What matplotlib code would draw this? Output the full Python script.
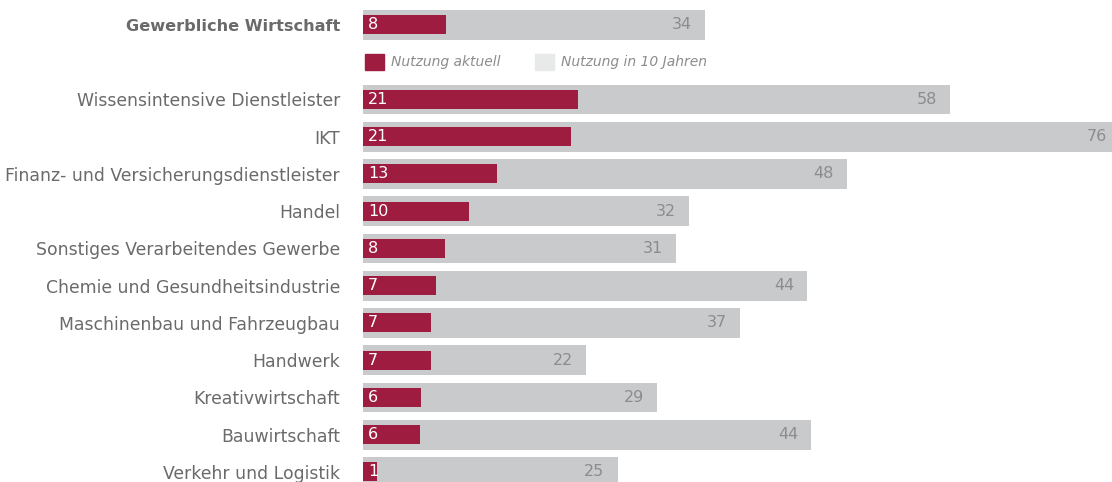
import matplotlib.pyplot as plt
from matplotlib.patches import Rectangle

categories = ['Gewerbliche Wirtschaft', 'Wissensintensive Dienstleister', 'IKT',
              'Finanz- und Versicherungsdienstleister', 'Handel',
              'Sonstiges Verarbeitendes Gewerbe', 'Chemie und Gesundheitsindustrie',
              'Maschinenbau und Fahrzeugbau', 'Handwerk', 'Kreativwirtschaft',
              'Bauwirtschaft', 'Verkehr und Logistik']
aktuell = [8.2, 21.3, 20.6, 13.3, 10.5, 8.1, 7.2, 6.7, 6.7, 5.7, 5.6, 1.4]
in_10_jahren = [33.9, 58.1, 75.0, 47.9, 32.3, 31.0, 44.0, 37.3, 22.1, 29.1, 44.4, 25.2]
aktuell_labels = ['8', '21', '21', '13', '10', '8', '7', '7', '7', '6', '6', '1']
zukunft_labels = ['34', '58', '76', '48', '32', '31', '44', '37', '22', '29', '44', '25']

RED = '#9e1c40'
GREY = '#c9cacc'
LIGHT = '#e8e9e9'
TXT = '#6a6a6a'

plt.rcParams['font.family'] = ['DejaVu Sans']

fig = plt.figure(figsize=(11.12, 4.82), dpi=100)
px_per_unit = 10.1
ax = fig.add_axes([363 / 1112, -8.6 / 482, 80 * px_per_unit / 1112, 484.25 / 482])
ax.set_xlim(0, 80)
ax.set_ylim(12.5, -0.5)

# first row is the total, then a gap row for the legend
ypos = [0] + list(range(2, 2 + len(categories) - 1))

ax.barh(ypos, in_10_jahren, height=0.8, color=GREY, zorder=1)
ax.barh(ypos, aktuell, height=0.51, color=RED, zorder=2)

for y, a, z, al, zl in zip(ypos, aktuell, in_10_jahren, aktuell_labels, zukunft_labels):
    ax.annotate(al, (0, y), xytext=(5, 0), textcoords='offset pixels',
                ha='left', va='center', color='white', fontsize=11.5, zorder=3)
    ax.annotate(zl, (z, y), xytext=(-13, 0), textcoords='offset pixels',
                ha='right', va='center', color='#8c8c8c', fontsize=11.5, zorder=3)

ax.set_yticks(ypos)
ax.set_yticklabels(categories, fontsize=12.4, color=TXT)
ax.get_yticklabels()[0].set_fontweight('bold')
ax.get_yticklabels()[0].set_fontsize(11.6)
ax.tick_params(axis='y', length=0, pad=16.5)
ax.set_xticks([])
for s in ax.spines.values():
    s.set_visible(False)

# legend row
ax.add_patch(Rectangle((0.2, 0.78), 1.9, 0.43, color=RED, clip_on=False))
ax.text(2.8, 1.0, 'Nutzung aktuell', style='italic', color='#8c8c8c',
        fontsize=10, va='center')
ax.add_patch(Rectangle((17.0, 0.78), 1.9, 0.43, color=LIGHT, clip_on=False))
ax.text(19.6, 1.0, 'Nutzung in 10 Jahren', style='italic', color='#8c8c8c',
        fontsize=10, va='center')

fig.savefig('out.png', dpi=100)
